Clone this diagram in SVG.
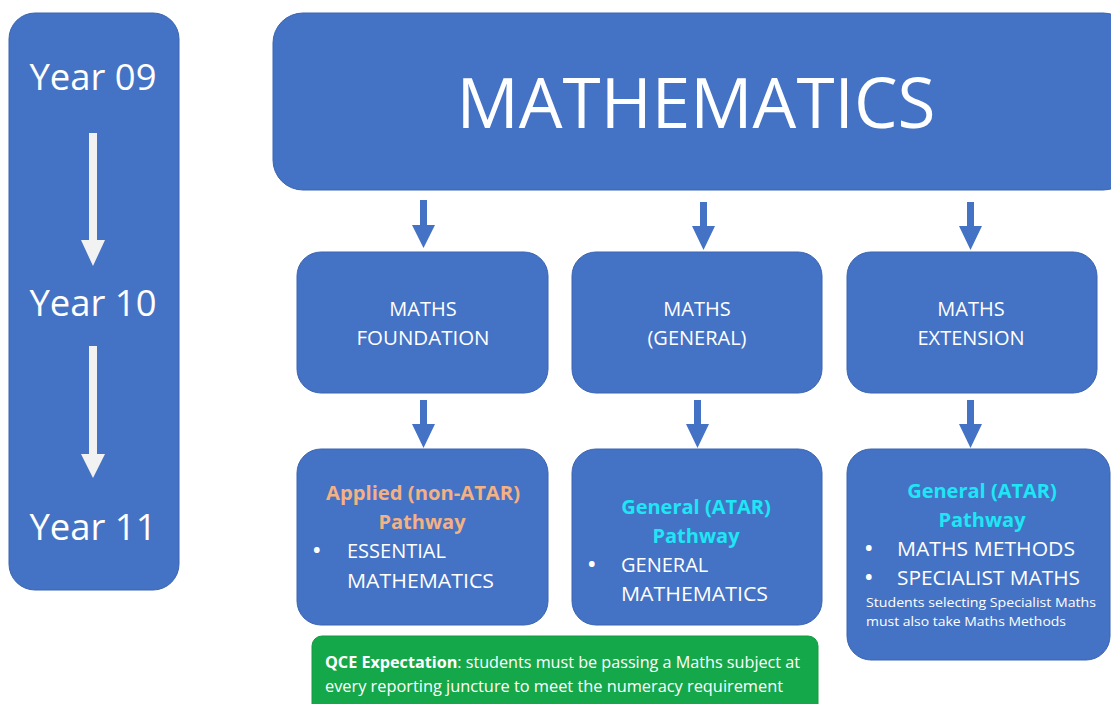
<svg xmlns="http://www.w3.org/2000/svg" width="1111" height="704" viewBox="0 0 1111 704">
<defs>
<style>
.box{fill:#4472C4;stroke:#3A65B0;stroke-width:1}
.t{font-family:"Open Sans","Liberation Sans",sans-serif;fill:#FFFFFF}
.c{text-anchor:middle}
.b{font-weight:bold}
.peach{fill:#F4B183}
.cyan{fill:#1EE6F5}
.warr{fill:#F2F2F2}
.barr{fill:#4472C4}
</style>
</defs>
<rect width="1111" height="704" fill="#FFFFFF"/>

<g id="years">
<rect class="box" x="9" y="13" width="170" height="577" rx="26"/>
<text class="t c" x="93" y="90" font-size="37" textLength="127" lengthAdjust="spacingAndGlyphs">Year 09</text>
<text class="t c" x="93" y="316" font-size="37" textLength="127" lengthAdjust="spacingAndGlyphs">Year 10</text>
<text class="t c" x="93" y="540" font-size="37" textLength="127" lengthAdjust="spacingAndGlyphs">Year 11</text>
</g>

<g id="mathematics">
<rect class="box" x="273" y="13" width="860" height="177" rx="30"/>
<text class="t c" x="696" y="128" font-size="69" textLength="479" lengthAdjust="spacingAndGlyphs">MATHEMATICS</text>
</g>

<g id="foundation">
<rect class="box" x="297" y="252" width="251" height="141" rx="24"/>
<text class="t c" x="423" y="316" font-size="20">MATHS</text>
<text class="t c" x="423" y="345" font-size="20" textLength="133" lengthAdjust="spacingAndGlyphs">FOUNDATION</text>
</g>

<g id="general">
<rect class="box" x="572" y="252" width="250" height="141" rx="24"/>
<text class="t c" x="697" y="316" font-size="20">MATHS</text>
<text class="t c" x="697" y="345" font-size="20">(GENERAL)</text>
</g>

<g id="extension">
<rect class="box" x="847" y="252" width="250" height="141" rx="24"/>
<text class="t c" x="971" y="316" font-size="20">MATHS</text>
<text class="t c" x="971" y="345" font-size="20">EXTENSION</text>
</g>

<g id="applied">
<rect class="box" x="297" y="449" width="251" height="176" rx="24"/>
<text class="t c b peach" x="423" y="500" font-size="20" textLength="194" lengthAdjust="spacingAndGlyphs">Applied (non-ATAR)</text>
<text class="t c b peach" x="422" y="529" font-size="20">Pathway</text>
<text class="t b" x="313" y="557" font-size="20">•</text>
<text class="t" x="347" y="558" font-size="20">ESSENTIAL</text>
<text class="t" x="347" y="588" font-size="20" textLength="147" lengthAdjust="spacingAndGlyphs">MATHEMATICS</text>
</g>

<g id="general-atar">
<rect class="box" x="572" y="449" width="250" height="176" rx="24"/>
<text class="t c b cyan" x="696" y="514" font-size="20">General (ATAR)</text>
<text class="t c b cyan" x="696" y="543" font-size="20">Pathway</text>
<text class="t b" x="588" y="571" font-size="20">•</text>
<text class="t" x="621" y="572" font-size="20">GENERAL</text>
<text class="t" x="621" y="601" font-size="20" textLength="147" lengthAdjust="spacingAndGlyphs">MATHEMATICS</text>
</g>

<g id="extension-atar">
<rect class="box" x="847" y="449" width="263" height="211" rx="24"/>
<text class="t c b cyan" x="982" y="498" font-size="20">General (ATAR)</text>
<text class="t c b cyan" x="982" y="527" font-size="20">Pathway</text>
<text class="t b" x="865" y="555" font-size="20">•</text>
<text class="t" x="897" y="556" font-size="20" textLength="178" lengthAdjust="spacingAndGlyphs">MATHS METHODS</text>
<text class="t b" x="865" y="584" font-size="20">•</text>
<text class="t" x="897" y="585" font-size="20" textLength="183" lengthAdjust="spacingAndGlyphs">SPECIALIST MATHS</text>
<text class="t" x="866" y="607" font-size="12.5" textLength="230" lengthAdjust="spacingAndGlyphs">Students selecting Specialist Maths</text>
<text class="t" x="866" y="626" font-size="12.5" textLength="200" lengthAdjust="spacingAndGlyphs">must also take Maths Methods</text>
</g>

<g id="qce">
<rect x="312" y="636" width="506" height="90" rx="10" fill="#15A84A" stroke="#129A42" stroke-width="1"/>
<text class="t" x="325" y="668" font-size="16" textLength="475" lengthAdjust="spacingAndGlyphs"><tspan class="b">QCE Expectation</tspan>: students must be passing a Maths subject at</text>
<text class="t" x="325" y="692" font-size="16" textLength="458" lengthAdjust="spacingAndGlyphs">every reporting juncture to meet the numeracy requirement</text>
</g>

<g id="connectors">
<polygon class="warr" points="89,133 97,133 97,240 105,240 93,266 81,240 89,240"/>
<polygon class="warr" points="89,346 97,346 97,454 105,454 93,478 81,454 89,454"/>
<polygon class="barr" points="420,200 427,200 427,225 435,225 423.5,248 412,225 420,225"/>
<polygon class="barr" points="700,202 707,202 707,226 715,226 703.5,250 692,226 700,226"/>
<polygon class="barr" points="967,202 974,202 974,226 982,226 970.5,250 959,226 967,226"/>
<polygon class="barr" points="420,400 427,400 427,424 435,424 423.5,448 412,424 420,424"/>
<polygon class="barr" points="694,400 701,400 701,424 709,424 697.5,448 686,424 694,424"/>
<polygon class="barr" points="967,400 974,400 974,424 982,424 970.5,448 959,424 967,424"/>
</g>
</svg>
